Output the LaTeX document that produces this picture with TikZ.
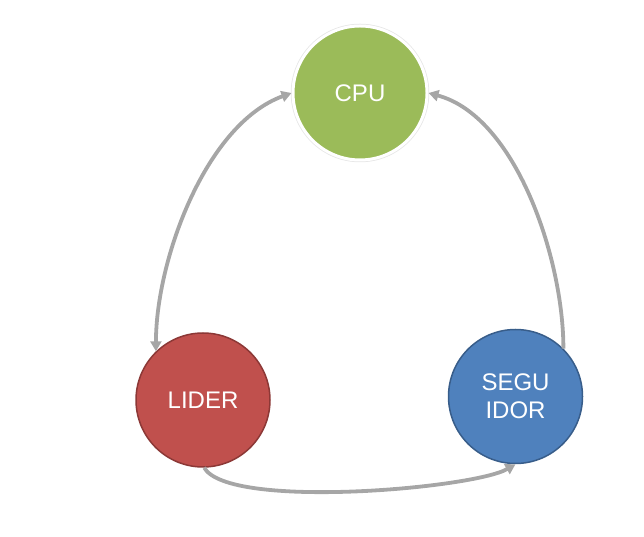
\documentclass[tikz,border=0pt]{standalone}
\usepackage{fontspec}
\setmainfont{Liberation Sans}
\usetikzlibrary{arrows.meta}
\definecolor{verdeCPU}{HTML}{9BBB59}
\definecolor{rojoLider}{HTML}{C0504D}
\definecolor{bordeLider}{HTML}{8C3836}
\definecolor{azulSeg}{HTML}{4F81BD}
\definecolor{bordeSeg}{HTML}{385D8A}
\definecolor{grisFlecha}{HTML}{A6A6A6}
\begin{document}
\begin{tikzpicture}[x=1pt, y=1pt,
    nodo/.style={circle, minimum size=134pt, inner sep=0pt, text=white, align=center,
        font=\fontsize{24}{28}\selectfont, line width=1.5pt},
    flecha/.style={draw=grisFlecha, line width=3.8pt, -{Triangle[length=10pt,width=11pt]}}]
    \useasboundingbox (0,0) rectangle (644,537);
    %% los tres procesos
    \node[nodo, fill=verdeCPU, draw=white, line width=3pt,
        preaction={draw=black!10, line width=4.5pt}] (CPU) at (360,444) {CPU};
    \node[nodo, fill=rojoLider, draw=bordeLider] (Lider) at (203,137) {LIDER};
    \node[nodo, fill=azulSeg, draw=bordeSeg] (Seguidor) at (515.5,140.5) {SEGU\\IDOR};
    %% flechas entre ellos
    \draw[flecha, {Triangle[length=10pt,width=11pt]}-{Triangle[length=10pt,width=11pt]}]
        (Lider.134) to[out=90, in=200, looseness=0.8] (CPU.180);
    \draw[flecha] (Seguidor.45) to[out=90, in=-15, looseness=0.8] (CPU.0);
    \draw[flecha] (Lider.-89) to[out=-60, in=210, looseness=0.4] (Seguidor.-90);
\end{tikzpicture}
\end{document}
